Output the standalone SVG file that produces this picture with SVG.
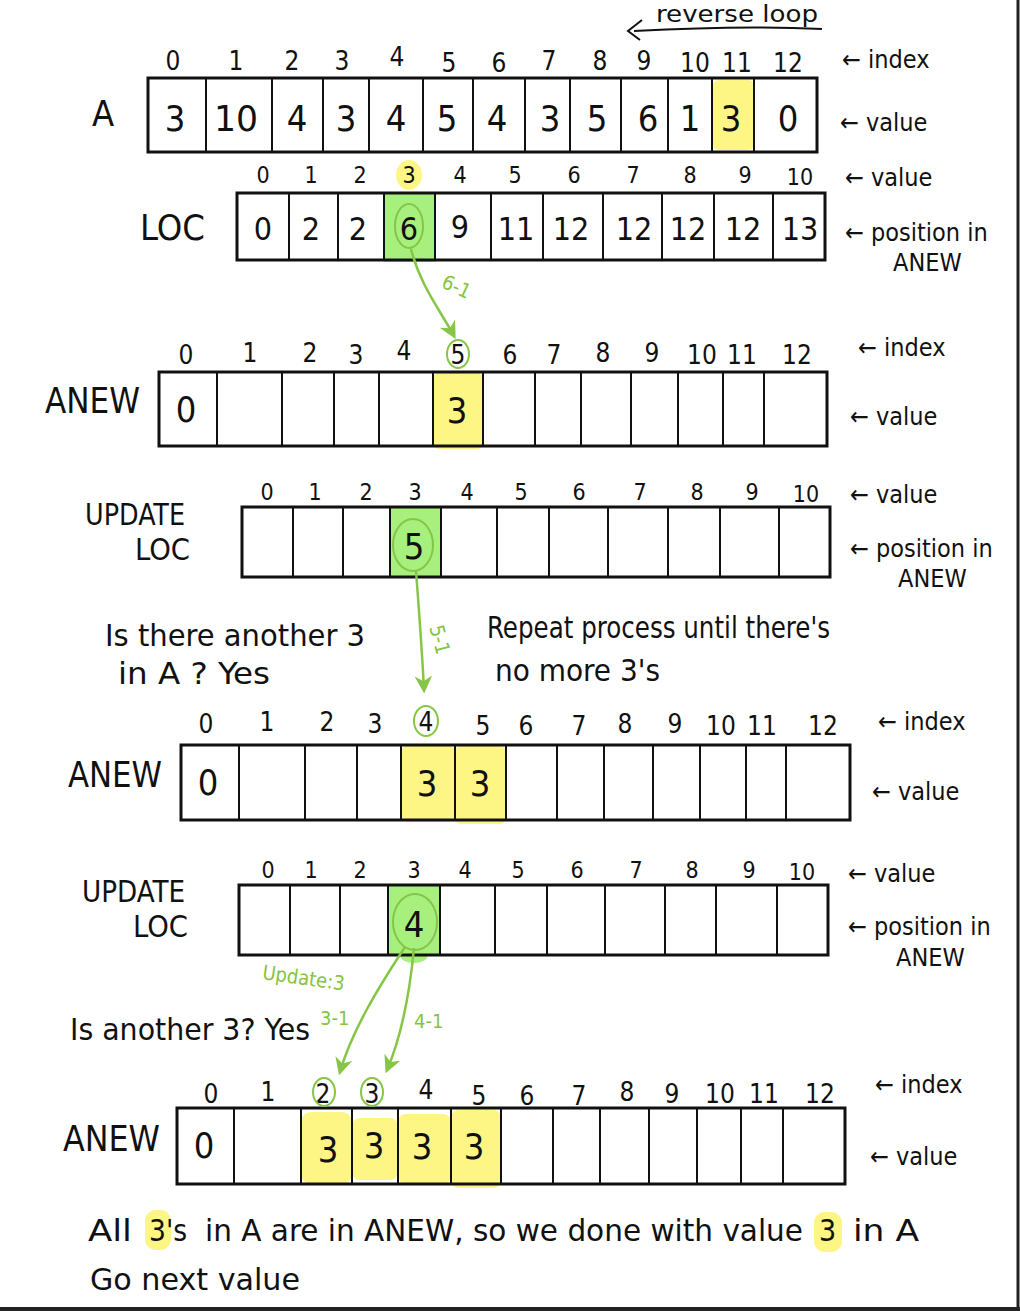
<svg xmlns="http://www.w3.org/2000/svg" width="1020" height="1311" viewBox="0 0 1020 1311">
<defs>
<style>
text{font-family:"Liberation Sans Narrow","DejaVu Sans Condensed","Liberation Sans",sans-serif;fill:#111;}
.idx{font-size:26px;text-anchor:middle;}
.sidx{font-size:23px;text-anchor:middle;}
.val{font-size:36px;text-anchor:middle;}
.lbl{font-size:25px;}
.big{font-size:36px;}
.note{font-size:30px;}
.g{fill:#84c441;font-size:20px;}
.edge{stroke:#111;stroke-width:3;fill:none;}
.div{stroke:#111;stroke-width:2;}
.hy{fill:#fdf584;}
.hg{fill:#a8f07e;}
.gc{fill:none;stroke:#86c546;stroke-width:2;}
.ga{fill:none;stroke:#86c546;stroke-width:2.5;}
</style>
<marker id="ah" viewBox="0 0 10 10" refX="8" refY="5" markerWidth="7" markerHeight="7" orient="auto-start-reverse">
<path d="M0,0 L10,5 L0,10 L3,5 Z" fill="#86c546"/>
</marker>
</defs>
<rect width="1020" height="1311" fill="#fff"/>
<line x1="1018" y1="0" x2="1018" y2="1311" stroke="#222" stroke-width="3"/>
<line x1="0" y1="1309" x2="1020" y2="1309" stroke="#222" stroke-width="4"/>

<!-- reverse loop -->
<g id="reverse-loop">
<text x="656" y="22" font-size="23" textLength="162" lengthAdjust="spacingAndGlyphs">reverse  loop</text>
<path d="M822,29 C760,26 690,28 634,31" fill="none" stroke="#111" stroke-width="2"/>
<path d="M642,20 L628,31 L640,40" fill="none" stroke="#111" stroke-width="2"/>
</g>

<!-- Array A -->
<g id="array-A">
<rect x="713" y="80" width="41" height="70" rx="6" class="hy"/>
<text x="92" y="126" class="big" font-size="40">A</text>
<rect x="148" y="78" width="669" height="74" class="edge"/>
<g class="div">
<line x1="206" y1="78" x2="206" y2="152"/><line x1="272" y1="78" x2="272" y2="152"/><line x1="323" y1="78" x2="323" y2="152"/><line x1="369" y1="78" x2="369" y2="152"/><line x1="423" y1="78" x2="423" y2="152"/><line x1="473" y1="78" x2="473" y2="152"/><line x1="525" y1="78" x2="525" y2="152"/><line x1="570" y1="78" x2="570" y2="152"/><line x1="621" y1="78" x2="621" y2="152"/><line x1="668" y1="78" x2="668" y2="152"/><line x1="712" y1="78" x2="712" y2="152"/><line x1="754" y1="78" x2="754" y2="152"/>
</g>
<g class="idx">
<text x="173" y="70">0</text><text x="236" y="70">1</text><text x="292" y="70">2</text><text x="342" y="70">3</text><text x="397" y="66">4</text><text x="449" y="72">5</text><text x="499" y="72">6</text><text x="549" y="70">7</text><text x="600" y="70">8</text><text x="644" y="70">9</text><text x="695" y="72">10</text><text x="737" y="72">11</text><text x="788" y="72">12</text>
</g>
<g class="val">
<text x="175" y="131">3</text><text x="236" y="131" textLength="44" lengthAdjust="spacingAndGlyphs">10</text><text x="297" y="131">4</text><text x="346" y="131">3</text><text x="396" y="131">4</text><text x="447" y="131">5</text><text x="497" y="131">4</text><text x="550" y="131">3</text><text x="597" y="131">5</text><text x="648" y="131">6</text><text x="690" y="131">1</text><text x="731" y="131">3</text><text x="788" y="131">0</text>
</g>
<text x="842" y="68" class="lbl">← index</text>
<text x="840" y="131" class="lbl">← value</text>
</g>

<!-- LOC -->
<g id="LOC">
<rect x="384" y="194" width="52" height="68" class="hg"/>
<ellipse cx="409" cy="175" rx="13" ry="15" class="hy"/>
<text x="140" y="240" class="big" textLength="65" lengthAdjust="spacingAndGlyphs">LOC</text>
<rect x="237" y="193" width="588" height="67" class="edge"/>
<g class="div">
<line x1="289" y1="193" x2="289" y2="260"/><line x1="338" y1="193" x2="338" y2="260"/><line x1="384" y1="193" x2="384" y2="260"/><line x1="435" y1="193" x2="435" y2="260"/><line x1="491" y1="193" x2="491" y2="260"/><line x1="543" y1="193" x2="543" y2="260"/><line x1="603" y1="193" x2="603" y2="260"/><line x1="662" y1="193" x2="662" y2="260"/><line x1="714" y1="193" x2="714" y2="260"/><line x1="773" y1="193" x2="773" y2="260"/>
</g>
<g class="sidx">
<text x="263" y="183">0</text><text x="311" y="183">1</text><text x="360" y="183">2</text><text x="409" y="183">3</text><text x="460" y="183">4</text><text x="515" y="183">5</text><text x="574" y="183">6</text><text x="633" y="183">7</text><text x="690" y="183">8</text><text x="745" y="183">9</text><text x="800" y="185">10</text>
</g>
<g class="val">
<text x="263" y="240" font-size="32">0</text><text x="311" y="240" font-size="32">2</text><text x="358" y="240" font-size="32">2</text><text x="409" y="240" font-size="32">6</text><text x="460" y="238" font-size="32">9</text><text x="516" y="240" font-size="32">11</text><text x="571" y="240" font-size="32">12</text><text x="634" y="240" font-size="32">12</text><text x="688" y="240" font-size="32">12</text><text x="743" y="240" font-size="32">12</text><text x="800" y="240" font-size="32">13</text>
</g>
<ellipse cx="409" cy="226" rx="14" ry="22" class="gc"/>
<text x="845" y="186" class="lbl">← value</text>
<text x="845" y="241" class="lbl">← position in</text>
<text x="893" y="271" class="lbl">ANEW</text>
</g>

<!-- ANEW 1 -->
<g id="ANEW-1">
<rect x="433" y="373" width="50" height="76" rx="6" class="hy"/>
<text x="45" y="413" class="big" textLength="95" lengthAdjust="spacingAndGlyphs">ANEW</text>
<rect x="159" y="372" width="668" height="74" class="edge"/>
<g class="div">
<line x1="217" y1="372" x2="217" y2="446"/><line x1="282" y1="372" x2="282" y2="446"/><line x1="334" y1="372" x2="334" y2="446"/><line x1="379" y1="372" x2="379" y2="446"/><line x1="433" y1="372" x2="433" y2="446"/><line x1="483" y1="372" x2="483" y2="446"/><line x1="535" y1="372" x2="535" y2="446"/><line x1="581" y1="372" x2="581" y2="446"/><line x1="631" y1="372" x2="631" y2="446"/><line x1="678" y1="372" x2="678" y2="446"/><line x1="723" y1="372" x2="723" y2="446"/><line x1="764" y1="372" x2="764" y2="446"/>
</g>
<g class="idx">
<text x="186" y="364">0</text><text x="250" y="362">1</text><text x="310" y="362">2</text><text x="356" y="364">3</text><text x="404" y="360">4</text><text x="458" y="364">5</text><text x="510" y="364">6</text><text x="554" y="364">7</text><text x="603" y="362">8</text><text x="652" y="362">9</text><text x="702" y="364">10</text><text x="742" y="364">11</text><text x="797" y="364">12</text>
</g>
<ellipse cx="458" cy="354" rx="11" ry="14" class="gc"/>
<text x="186" y="422" class="val" font-size="32">0</text>
<text x="457" y="423" class="val">3</text>
<text x="858" y="356" class="lbl">← index</text>
<text x="850" y="425" class="lbl">← value</text>
</g>

<!-- UPDATE LOC 1 -->
<g id="UPDATE-LOC-1">
<rect x="390" y="508" width="51" height="69" class="hg"/>
<text x="85" y="525" class="note" textLength="100" lengthAdjust="spacingAndGlyphs">UPDATE</text>
<text x="135" y="560" class="note" textLength="55" lengthAdjust="spacingAndGlyphs">LOC</text>
<rect x="242" y="507" width="588" height="70" class="edge"/>
<g class="div">
<line x1="293" y1="507" x2="293" y2="577"/><line x1="343" y1="507" x2="343" y2="577"/><line x1="390" y1="507" x2="390" y2="577"/><line x1="441" y1="507" x2="441" y2="577"/><line x1="497" y1="507" x2="497" y2="577"/><line x1="549" y1="507" x2="549" y2="577"/><line x1="608" y1="507" x2="608" y2="577"/><line x1="668" y1="507" x2="668" y2="577"/><line x1="720" y1="507" x2="720" y2="577"/><line x1="779" y1="507" x2="779" y2="577"/>
</g>
<g class="sidx">
<text x="267" y="500">0</text><text x="315" y="500">1</text><text x="366" y="500">2</text><text x="415" y="500">3</text><text x="467" y="500">4</text><text x="521" y="500">5</text><text x="579" y="500">6</text><text x="640" y="500">7</text><text x="697" y="500">8</text><text x="752" y="500">9</text><text x="806" y="502">10</text>
</g>
<text x="414" y="559" class="val">5</text>
<ellipse cx="413" cy="545" rx="20" ry="26" class="gc"/>
<text x="850" y="503" class="lbl">← value</text>
<text x="850" y="557" class="lbl">← position in</text>
<text x="898" y="587" class="lbl">ANEW</text>
</g>

<g id="note-1">
<text x="105" y="646" class="note" textLength="260" lengthAdjust="spacingAndGlyphs">Is there another 3</text>
<text x="118" y="684" class="note" textLength="152" lengthAdjust="spacingAndGlyphs">in A ?  Yes</text>
</g>
<g id="note-repeat">
<text x="487" y="638" class="note" textLength="343" lengthAdjust="spacingAndGlyphs">Repeat process  until there's</text>
<text x="495" y="681" class="note" textLength="165" lengthAdjust="spacingAndGlyphs">no more 3's</text>
</g>

<!-- ANEW 2 -->
<g id="ANEW-2">
<rect x="401" y="746" width="54" height="76" rx="6" class="hy"/>
<rect x="455" y="746" width="51" height="78" rx="6" class="hy"/>
<text x="68" y="787" class="big" textLength="94" lengthAdjust="spacingAndGlyphs">ANEW</text>
<rect x="181" y="745" width="669" height="75" class="edge"/>
<g class="div">
<line x1="239" y1="745" x2="239" y2="820"/><line x1="305" y1="745" x2="305" y2="820"/><line x1="357" y1="745" x2="357" y2="820"/><line x1="401" y1="745" x2="401" y2="820"/><line x1="455" y1="745" x2="455" y2="820"/><line x1="506" y1="745" x2="506" y2="820"/><line x1="557" y1="745" x2="557" y2="820"/><line x1="604" y1="745" x2="604" y2="820"/><line x1="653" y1="745" x2="653" y2="820"/><line x1="700" y1="745" x2="700" y2="820"/><line x1="746" y1="745" x2="746" y2="820"/><line x1="786" y1="745" x2="786" y2="820"/>
</g>
<g class="idx">
<text x="206" y="733">0</text><text x="267" y="731">1</text><text x="327" y="731">2</text><text x="375" y="733">3</text><text x="426" y="731">4</text><text x="483" y="735">5</text><text x="526" y="735">6</text><text x="579" y="735">7</text><text x="625" y="733">8</text><text x="675" y="733">9</text><text x="721" y="735">10</text><text x="762" y="735">11</text><text x="823" y="735">12</text>
</g>
<ellipse cx="426" cy="721" rx="12" ry="15" class="gc"/>
<text x="208" y="795" class="val" font-size="32">0</text>
<text x="427" y="796" class="val">3</text>
<text x="480" y="796" class="val">3</text>
<text x="878" y="730" class="lbl">← index</text>
<text x="872" y="800" class="lbl">← value</text>
</g>

<!-- UPDATE LOC 2 -->
<g id="UPDATE-LOC-2">
<rect x="388" y="886" width="52" height="70" class="hg"/>
<ellipse cx="414" cy="955" rx="14" ry="8" class="hg"/>
<text x="82" y="902" class="note" textLength="103" lengthAdjust="spacingAndGlyphs">UPDATE</text>
<text x="133" y="937" class="note" textLength="55" lengthAdjust="spacingAndGlyphs">LOC</text>
<rect x="239" y="885" width="589" height="70" class="edge"/>
<g class="div">
<line x1="290" y1="885" x2="290" y2="955"/><line x1="340" y1="885" x2="340" y2="955"/><line x1="388" y1="885" x2="388" y2="955"/><line x1="440" y1="885" x2="440" y2="955"/><line x1="495" y1="885" x2="495" y2="955"/><line x1="547" y1="885" x2="547" y2="955"/><line x1="605" y1="885" x2="605" y2="955"/><line x1="665" y1="885" x2="665" y2="955"/><line x1="716" y1="885" x2="716" y2="955"/><line x1="777" y1="885" x2="777" y2="955"/>
</g>
<g class="sidx">
<text x="268" y="878">0</text><text x="311" y="878">1</text><text x="360" y="878">2</text><text x="414" y="878">3</text><text x="465" y="878">4</text><text x="518" y="878">5</text><text x="577" y="878">6</text><text x="636" y="878">7</text><text x="692" y="878">8</text><text x="749" y="878">9</text><text x="802" y="880">10</text>
</g>
<text x="414" y="937" class="val">4</text>
<ellipse cx="415" cy="922" rx="22" ry="28" class="gc"/>
<text x="848" y="882" class="lbl">← value</text>
<text x="848" y="935" class="lbl">← position in</text>
<text x="896" y="966" class="lbl">ANEW</text>
</g>

<g id="note-2">
<text x="70" y="1040" class="note" textLength="240" lengthAdjust="spacingAndGlyphs">Is another 3?  Yes</text>
</g>

<!-- ANEW 3 -->
<g id="ANEW-3">
<rect x="301" y="1112" width="51" height="72" rx="10" class="hy"/>
<rect x="352" y="1118" width="46" height="62" rx="8" class="hy"/>
<rect x="398" y="1114" width="53" height="70" rx="8" class="hy"/>
<rect x="451" y="1110" width="50" height="78" rx="8" class="hy"/>
<text x="63" y="1151" class="big" textLength="97" lengthAdjust="spacingAndGlyphs">ANEW</text>
<rect x="177" y="1108" width="668" height="76" class="edge"/>
<g class="div">
<line x1="234" y1="1108" x2="234" y2="1184"/><line x1="301" y1="1108" x2="301" y2="1184"/><line x1="352" y1="1108" x2="352" y2="1184"/><line x1="398" y1="1108" x2="398" y2="1184"/><line x1="451" y1="1108" x2="451" y2="1184"/><line x1="501" y1="1108" x2="501" y2="1184"/><line x1="553" y1="1108" x2="553" y2="1184"/><line x1="600" y1="1108" x2="600" y2="1184"/><line x1="649" y1="1108" x2="649" y2="1184"/><line x1="697" y1="1108" x2="697" y2="1184"/><line x1="741" y1="1108" x2="741" y2="1184"/><line x1="783" y1="1108" x2="783" y2="1184"/>
</g>
<g class="idx">
<text x="211" y="1103">0</text><text x="268" y="1101">1</text><text x="323" y="1103">2</text><text x="372" y="1103">3</text><text x="426" y="1099">4</text><text x="479" y="1105">5</text><text x="527" y="1105">6</text><text x="579" y="1105">7</text><text x="627" y="1101">8</text><text x="672" y="1103">9</text><text x="720" y="1103">10</text><text x="764" y="1103">11</text><text x="820" y="1103">12</text>
</g>
<ellipse cx="324" cy="1092" rx="11" ry="14" class="gc"/>
<ellipse cx="372" cy="1092" rx="11" ry="14" class="gc"/>
<text x="204" y="1158" class="val" font-size="32">0</text>
<text x="328" y="1162" class="val">3</text>
<text x="374" y="1158" class="val">3</text>
<text x="422" y="1159" class="val">3</text>
<text x="474" y="1159" class="val">3</text>
<text x="875" y="1093" class="lbl">← index</text>
<text x="870" y="1165" class="lbl">← value</text>
</g>

<g id="note-final">
<rect x="145" y="1210" width="26" height="40" rx="11" class="hy"/>
<rect x="814" y="1212" width="28" height="40" rx="11" class="hy"/>
<text x="88" y="1241" class="note" textLength="44" lengthAdjust="spacingAndGlyphs">All</text>
<text x="149" y="1241" class="note" textLength="38" lengthAdjust="spacingAndGlyphs">3's</text>
<text x="205" y="1241" class="note" textLength="598" lengthAdjust="spacingAndGlyphs">in A are in ANEW, so we done with value</text>
<text x="819" y="1241" class="note">3</text>
<text x="853" y="1241" class="note" textLength="66" lengthAdjust="spacingAndGlyphs">in A</text>
<text x="90" y="1290" class="note" textLength="210" lengthAdjust="spacingAndGlyphs">Go next value</text>
</g>

<!-- connectors -->
<g id="connectors">
<path d="M411,249 C420,285 440,310 454,336" class="ga" marker-end="url(#ah)"/>
<text x="440" y="292" class="g" transform="rotate(25 452 290)">6-1</text>
<path d="M416,571 C419,610 422,650 424,690" class="ga" marker-end="url(#ah)"/>
<text x="424" y="640" class="g" transform="rotate(75 435 637)">5-1</text>
<path d="M405,947 C380,985 352,1030 340,1072" class="ga" marker-end="url(#ah)"/>
<path d="M414,948 C410,990 402,1035 387,1070" class="ga" marker-end="url(#ah)"/>
<text x="262" y="985" class="g" transform="rotate(8 305 980)">Update:3</text>
<text x="320" y="1025" class="g">3-1</text>
<text x="414" y="1028" class="g" font-size="22">4-1</text>
</g>
</svg>
